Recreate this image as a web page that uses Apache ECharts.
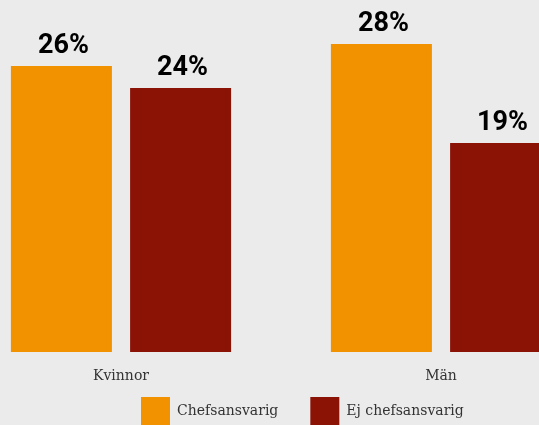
<!DOCTYPE html>
<html>
<head>
<meta charset="utf-8">
<script src="https://cdn.jsdelivr.net/npm/echarts@6/dist/echarts.min.js"></script>
<style>
  html, body { margin: 0; padding: 0; background: #ebebeb; }
  #chart { width: 539px; height: 425px; }
</style>
</head>
<body>
<div id="chart"></div>
<script>
var categories = ['Kvinnor', 'Män'];
var seriesNames = ['Chefsansvarig', 'Ej chefsansvarig'];
var chefValues = [26, 28];
var ejChefValues = [24, 19];

var chart = echarts.init(document.getElementById('chart'));

var labelStyle = {
  show: true,
  position: 'top',
  distance: 6,
  formatter: '{c}%',
  color: '#000',
  fontFamily: 'Roboto',
  fontWeight: 'bold',
  fontSize: 27,
  offset: [2, 0]
};

var option = {
  backgroundColor: '#ebebeb',
  animation: false,
  grid: {
    left: -39,
    right: -62,
    top: 22,
    bottom: 73,
    outerBoundsMode: 'none',
    containLabel: false
  },
  legend: {
    left: 141,
    top: 397,
    padding: 0,
    itemWidth: 29,
    itemHeight: 29,
    itemGap: 32,
    icon: 'rect',
    textStyle: {
      fontFamily: 'DejaVu Serif',
      fontSize: 14,
      color: '#333',
      padding: [0, 0, 0, 2]
    },
    data: seriesNames
  },
  xAxis: {
    type: 'category',
    data: categories,
    axisLine: { show: false },
    axisTick: { show: false },
    axisLabel: {
      margin: 17,
      fontFamily: 'DejaVu Serif',
      fontSize: 14,
      color: '#333'
    }
  },
  yAxis: {
    type: 'value',
    min: 0,
    max: 30,
    show: false
  },
  series: [
    {
      name: seriesNames[0],
      type: 'bar',
      data: chefValues,
      barWidth: 101,
      barGap: '18%',
      itemStyle: { color: '#f39200' },
      label: labelStyle
    },
    {
      name: seriesNames[1],
      type: 'bar',
      data: ejChefValues,
      barWidth: 101,
      itemStyle: { color: '#8a1306' },
      label: labelStyle
    }
  ]
};

chart.setOption(option);
</script>
</body>
</html>
